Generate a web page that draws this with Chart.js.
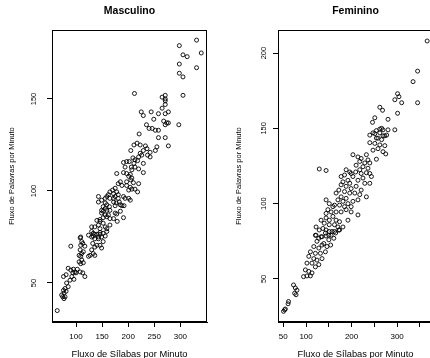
<!DOCTYPE html>
<html><head><meta charset="utf-8">
<script src="https://cdn.jsdelivr.net/npm/chart.js@4/dist/chart.umd.min.js"></script>
<style>
html,body{margin:0;padding:0;background:#fff;overflow:hidden;width:430px;height:358px;position:relative}
canvas{position:absolute;top:0}
</style></head><body>
<canvas id="c1" width="215" height="358" style="left:0"></canvas>
<canvas id="c2" width="230" height="358" style="left:215px"></canvas>
<script>
// ---------- data ----------
const panelTitles = ['Masculino', 'Feminino'];
const xAxisTitle = 'Fluxo de Sílabas por Minuto';
const yAxisTitle = 'Fluxo de Palavras por Minuto';

const mascXTicks = [100, 150, 200, 250, 300];
const mascXLabels = ['100', '150', '200', '250', '300'];
const mascYTicks = [50, 100, 150];
const femXTicks = [50, 100, 150, 200, 250, 300, 350];
const femXLabels = ['50', '100', '', '200', '', '300', ''];
const femYTicks = [50, 100, 150, 200];

const mascX = [331,298,340,305,313,298,331,298,305,212,265,271,271,271,305,271,265,277,225,229,244,258,249,271,268,274,277,271,235,240,246,252,258,297,221,258,271,
277,217,223,211,233,236,229,255,252,242,205,223,226,220,237,242,209,213,218,202,211,229,191,197,194,206,213,220,207,229,178,191,197,204,201,207,205,197,210,220,
185,181,188,197,204,207,213,218,201,175,170,165,172,178,181,162,159,156,165,172,175,181,191,194,201,204,143,149,143,172,177,183,185,188,192,175,
156,159,152,164,156,149,159,165,152,149,156,162,159,165,152,146,172,179,191,175,178,185,
140,146,152,143,136,146,156,159,165,130,130,136,133,143,146,152,149,156,159,109,
90,108,111,113,109,117,124,130,133,140,146,143,136,132,140,146,136,149,152,108,114,111,106,109,130,133,127,136,124,111,106,114,109,
85,90,95,98,102.5,94,100,108,113,117,92,96,88.5,81,76,82,85,79,76,81,77,72.5,74.5,79,77,64];
const mascY = [182,179,175,174,173,169,167,164,162,153,151,152,150,149,152,147,145,143,143,141,143,142,139,142,138,137,137,136,136,134,134,133,133,136,131,129,129,
124.5,126,125,125,124.5,123,122,124,122,121,122,120.5,119.5,118.5,119.5,118.5,118,117,116.5,116,115,115,115.5,116,113,113,113,112,111.5,110,109.5,110,109.5,109,108,107,106,105,104.5,104,
105,104,103,103,102,101,101,99.5,100.5,101.5,100.5,99.5,98.5,99.5,98,98,97,96,96,96,97,96,97,96,96,95,97,95,94,94,93.5,94,92.5,92,92,92,
93.5,92.5,91.5,91.5,90.5,89.5,89.5,89.5,89,88,87,87,86,85,85.5,84.5,85,83.5,85.5,88,87.5,89,
84,83.5,82.5,81.5,80.5,79.5,80.5,79.5,81.5,80.5,78,76.5,75.5,75,76.5,77,75,75.5,78,75,
70,74.5,72.5,71.5,70.5,70,76,75,77,76.5,77.5,74,74,71.5,70.5,70.5,69.5,69,72.5,68,67,66,65,64.5,68,66,65,65,64.5,62.5,61.5,61,60.5,
58,57,57.5,56,57.5,55.5,55.5,56,55.5,53.5,53.5,52,51.5,54.5,53.5,50,48,47,46,45.5,44.5,43.5,42.5,42.5,41.5,35];

const femX = [366,345,335,301,304,295,310,345,262,268,301,251,246,280,262,266,269,280,295,254.5,247,240,251,273,258,
262,269,277,254.5,266,240,251,262,273,258,247,269,275,254.5,129,144,
203,214,221,232.5,236,229,218,210,240,225,236,218,209,196,188,199,184.5,203,221,232.5,240,243.5,225,214,229,240,
177,181,192,196,177,188,199,210,221,172,184.5,196,207,218,232.5,166,177,188,170,181,192,203,214,173.5,184.5,199,162.5,
144,151,159,148,155,166,177,188,199,144,214,133,144,151,159,166,173.5,140,151,162.5,170,181,192,
122,129,137,144,151,122,133,144,155,162.5,173.5,
120.5,128,135,142.5,150,157,165,172,124,139,150,161,117,128,135,146,154,109.5,120.5,131.5,142.5,106,117,124,135,
102,113,120.5,128,98.5,106,113,94.5,102,109.5,72.5,76.5,80,75,78,61.5,60.5,53,50.5,54.5];
const femY = [208,188,181,173,171,169,167,167,164,162,160,157,154,156,149.5,150,149,149,149,148.5,147,145.5,146.5,145,143.5,
147,145,145.5,143.5,142.5,140.5,140,139,138.5,136.5,135.5,134.5,133,129.5,123,122,
132.5,131,130,132.5,129,127,128,125.5,127,124.5,123.5,122.5,121,121,122.5,120,119,118,120,120.5,120,118,117,115.5,113.5,113.5,
118,114.5,115.5,113.5,112.5,111.5,110,111.5,109,109,108,107,107,106,104.5,107,104.5,103.5,102.5,101.5,100,101.5,102.5,99,98,98,99,
102.5,100,98,96,94.5,94.5,94.5,96,94.5,93.5,92.5,89,90.5,89,91.5,89,88,87,86,86,84.5,84.5,89,
84.5,82.5,83.5,82.5,81.5,79,78,78.5,79,81.5,82.5,
79,77,78,80.5,79,81.5,80.5,82.5,75,73.5,76,77,71.5,70.5,72.5,71.5,72.5,68,67,67,68,65,63.5,62.5,63.5,
60.5,60.5,58,59.5,56,55,54,51.5,52,52,46,44,42.5,40.5,39.5,35,33.5,29.5,28.5,30];

// ---------- drawing ----------
const FONT = '"Liberation Sans", Arial, Helvetica, sans-serif';

const rFrame = {
  id: 'rFrame',
  afterDraw(chart, args, o) {
    const {ctx, chartArea: a, scales} = chart;
    ctx.save();
    ctx.strokeStyle = '#000';
    ctx.lineWidth = 1;
    const L = Math.round(a.left) + 0.5, T = Math.round(a.top) + 0.5;
    const R = Math.round(a.right) - 0.5, B = Math.round(a.bottom) - 0.5;
    ctx.strokeRect(L, T, R - L, B - T);
    ctx.fillStyle = '#000';
    ctx.textAlign = 'center';
    ctx.textBaseline = 'middle';
    // panel title
    ctx.font = 'bold 10.5px ' + FONT;
    ctx.fillText(o.title, (a.left + a.right) / 2, 11);
    // y tick labels (rotated, R style)
    ctx.font = '7.5px ' + FONT;
    for (const v of o.yTicks) {
      const py = scales.y.getPixelForValue(v);
      ctx.save();
      ctx.translate(a.left - o.yLabOff, py);
      ctx.rotate(-Math.PI / 2);
      ctx.fillText(String(v), 0, 0);
      ctx.restore();
    }
    ctx.save();
    ctx.translate(o.yTitleX, (a.top + a.bottom) / 2);
    ctx.rotate(-Math.PI / 2);
    ctx.font = '7.5px ' + FONT;
    ctx.fillText(o.yTitle, 0, 0);
    ctx.restore();
    ctx.font = '9.3px ' + FONT;
    ctx.fillText(o.xTitle, (a.left + a.right) / 2, o.xTitleY);
    ctx.restore();
  }
};

function makePanel(id, title, xs, ys, xr, yr, xTicks, xLabels, yTicks, yWidth, padRight, yLabOff, yTitleX) {
  const pts = xs.map((x, i) => ({x: x, y: ys[i]}));
  new Chart(document.getElementById(id), {
    type: 'scatter',
    data: {datasets: [{
      data: pts,
      pointStyle: 'circle',
      pointRadius: 2,
      pointHoverRadius: 2,
      borderWidth: 0.9,
      borderColor: '#000',
      backgroundColor: 'rgba(0,0,0,0)'
    }]},
    options: {
      responsive: false,
      animation: false,
      devicePixelRatio: 1,
      layout: {padding: {left: 0, right: padRight, top: 30, bottom: 0}},
      plugins: {
        legend: {display: false},
        tooltip: {enabled: false},
        title: {display: false},
        rFrame: {title: title, yTicks: yTicks, yLabOff: yLabOff, yTitleX: yTitleX,
          yTitle: yAxisTitle, xTitle: xAxisTitle, xTitleY: 354.5}
      },
      scales: {
        x: {
          type: 'linear', min: xr[0], max: xr[1],
          afterFit: s => { s.height = 36; },
          afterBuildTicks: s => { s.ticks = xTicks.map(v => ({value: v})); },
          ticks: {color: '#000', padding: 5, font: {family: FONT, size: 8},
            callback: (v) => { const i = xTicks.indexOf(v); return i >= 0 ? xLabels[i] : ''; }},
          grid: {display: true, drawOnChartArea: false, drawTicks: true, tickLength: 5, color: '#000', lineWidth: 1},
          border: {display: true, color: '#000'}
        },
        y: {
          type: 'linear', min: yr[0], max: yr[1],
          afterFit: s => { s.width = yWidth; },
          afterBuildTicks: s => { s.ticks = yTicks.map(v => ({value: v})); },
          ticks: {display: false},
          grid: {display: true, drawOnChartArea: false, drawTicks: true, tickLength: 5, color: '#000', lineWidth: 1},
          border: {display: true, color: '#000'}
        }
      }
    },
    plugins: [rFrame]
  });
}

makePanel('c1', panelTitles[0], mascX, mascY, [54, 351], [28.8, 187.5],
  mascXTicks, mascXLabels, mascYTicks, 52, 8, 18, 11.7);
makePanel('c2', panelTitles[1], femX, femY, [38.4, 378.8], [21.4, 215.3],
  femXTicks, femXLabels, femYTicks, 63, 12, 14, 24);
</script>
</body></html>
